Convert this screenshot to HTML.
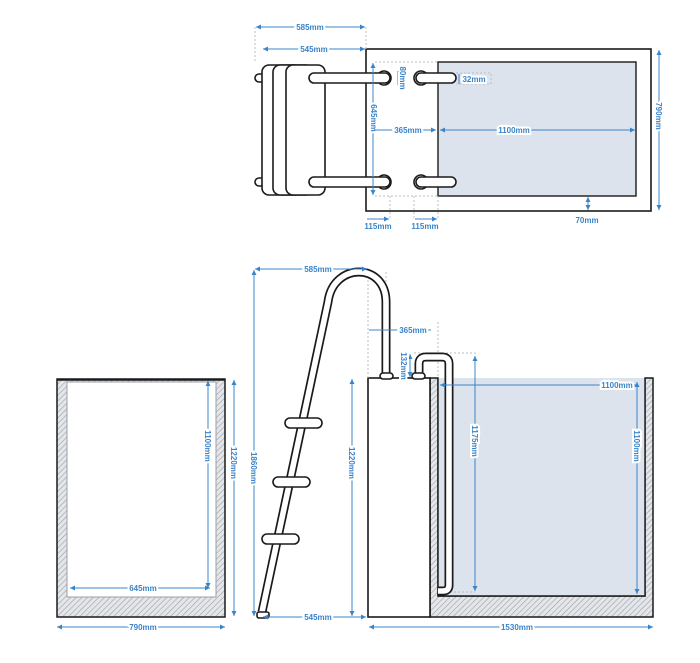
<!DOCTYPE html>
<html><head><meta charset="utf-8"><style>
html,body{margin:0;padding:0;background:#fff;}
svg{display:block;}
text{font-family:"Liberation Sans",sans-serif;font-weight:bold;font-size:8px;fill:#3a84c9;paint-order:stroke;stroke:#fff;stroke-width:4px;}
.d{stroke:#3a84c9;stroke-width:1;fill:none;}
.g{stroke:#b8bcc4;stroke-width:1;stroke-dasharray:2 2;fill:none;}
.k{stroke:#1a1a1a;stroke-width:1.6;fill:#fff;}
</style></head><body>
<svg width="700" height="663" viewBox="0 0 700 663" xmlns="http://www.w3.org/2000/svg">
<defs>
<pattern id="h" width="4" height="4" patternUnits="userSpaceOnUse" patternTransform="rotate(45)">
<rect width="4" height="4" fill="#e4e6ea"/><line x1="0" y1="0" x2="0" y2="4" stroke="#9aa0a8" stroke-width="1.2"/>
</pattern>
<marker id="a" markerWidth="6" markerHeight="6" refX="5" refY="3" orient="auto-start-reverse"><path d="M0,0.5 L5,3 L0,5.5z" fill="#3a84c9"/></marker>
</defs>

<!-- ===== TOP VIEW ===== -->
<rect x="366" y="49" width="285" height="162" class="k"/>
<rect x="438" y="62" width="198" height="134" fill="#dde3ec" stroke="#1a1a1a" stroke-width="1.4"/>
<path class="g" d="M375 62 H438 M375 196 H438 M390 196 V219 M414 196 V219 M438 196 V219 M255 27 V62 M366 27 V49 M456 73 H491 V84 H456"/>
<!-- ladder top -->
<rect x="255" y="74" width="10" height="8" rx="4" class="k"/>
<rect x="255" y="178" width="10" height="8" rx="4" class="k"/>
<rect x="262" y="65" width="40" height="130" rx="7" class="k"/>
<rect x="273" y="65" width="40" height="130" rx="7" class="k"/>
<rect x="286" y="65" width="39" height="130" rx="7" class="k"/>
<g>
<circle cx="384" cy="78" r="7" class="k"/><rect x="309" y="73" width="81" height="10" rx="5" class="k"/>
<circle cx="384" cy="182" r="7" class="k"/><rect x="309" y="177" width="81" height="10" rx="5" class="k"/>
<circle cx="421" cy="78" r="7" class="k"/><rect x="416" y="73" width="40" height="10" rx="5" class="k"/>
<circle cx="421" cy="182" r="7" class="k"/><rect x="416" y="177" width="40" height="10" rx="5" class="k"/>
</g>
<line class="d" x1="256" y1="27" x2="365" y2="27" marker-start="url(#a)" marker-end="url(#a)"/><text x="310" y="30" text-anchor="middle">585mm</text>
<line class="d" x1="263" y1="49" x2="365" y2="49" marker-start="url(#a)" marker-end="url(#a)"/><text x="314" y="52" text-anchor="middle">545mm</text>
<line class="d" x1="398" y1="71" x2="398" y2="85"/><text transform="translate(400,78) rotate(90)" text-anchor="middle">80mm</text>
<line class="d" x1="459" y1="74" x2="459" y2="84"/><text x="474" y="82" text-anchor="middle">32mm</text>
<line class="d" x1="373" y1="63" x2="373" y2="195" marker-start="url(#a)" marker-end="url(#a)"/><text transform="translate(371,118) rotate(90)" text-anchor="middle">645mm</text>
<line class="d" x1="374" y1="130" x2="436" y2="130" marker-end="url(#a)"/><text x="408" y="133" text-anchor="middle">365mm</text>
<line class="d" x1="440" y1="130" x2="635" y2="130" marker-start="url(#a)" marker-end="url(#a)"/><text x="514" y="133" text-anchor="middle">1100mm</text>
<line class="d" x1="659" y1="50" x2="659" y2="210" marker-start="url(#a)" marker-end="url(#a)"/><text transform="translate(656,116) rotate(90)" text-anchor="middle">790mm</text>
<line class="d" x1="588" y1="197" x2="588" y2="210" marker-start="url(#a)" marker-end="url(#a)"/><text x="587" y="223" text-anchor="middle">70mm</text>
<line class="d" x1="367" y1="219" x2="389" y2="219" marker-end="url(#a)"/><text x="378" y="229" text-anchor="middle">115mm</text>
<line class="d" x1="415" y1="219" x2="437" y2="219" marker-end="url(#a)"/><text x="425" y="229" text-anchor="middle">115mm</text>

<!-- ===== LEFT SECTION ===== -->
<rect x="57" y="379" width="168" height="238" fill="url(#h)" stroke="#1a1a1a" stroke-width="1.5"/>
<rect x="67" y="382" width="149" height="215" fill="#fff" stroke="#9aa0a8" stroke-width="1"/>
<line x1="57" y1="380" x2="225" y2="380" stroke="#1a1a1a" stroke-width="1.5"/>
<line class="d" x1="208" y1="381" x2="208" y2="588" marker-start="url(#a)" marker-end="url(#a)"/><text transform="translate(205,446) rotate(90)" text-anchor="middle">1100mm</text>
<line class="d" x1="70" y1="588" x2="210" y2="588" marker-start="url(#a)" marker-end="url(#a)"/><text x="143" y="591" text-anchor="middle">645mm</text>
<line class="d" x1="234" y1="380" x2="234" y2="616" marker-start="url(#a)" marker-end="url(#a)"/><text transform="translate(231,463) rotate(90)" text-anchor="middle">1220mm</text>
<line class="d" x1="57" y1="627" x2="225" y2="627" marker-start="url(#a)" marker-end="url(#a)"/><text x="143" y="630" text-anchor="middle">790mm</text>

<!-- ===== SIDE VIEW ===== -->
<path fill="url(#h)" stroke="#1a1a1a" stroke-width="1.5" d="M430 378 H438 V596 H645 V378 H653 V617 H430 Z"/>
<rect x="438" y="378" width="207" height="218" fill="#dde3ec"/>
<path d="M438 378 V596 H645 V378" fill="none" stroke="#1a1a1a" stroke-width="1.4"/>
<rect x="368" y="378" width="62" height="239" class="k"/>
<path class="g" d="M368 272 V378 M386 272 V300 M438 322 V378 M414 353 H475 V360 M438 592 H475"/>
<!-- handrail -->
<path d="M262 612 L328 302 C333 262, 386 262, 386 302 L386 375" fill="none" stroke="#1a1a1a" stroke-width="9" stroke-linejoin="round"/>
<path d="M262 612 L328 302 C333 262, 386 262, 386 302 L386 375" fill="none" stroke="#fff" stroke-width="5.6" stroke-linejoin="round"/>
<rect x="257" y="612" width="12" height="6" rx="2" class="k"/>
<rect x="380" y="373" width="13" height="6" rx="3" class="k"/>
<rect x="285" y="418" width="37" height="10" rx="5" class="k"/>
<rect x="273" y="477" width="37" height="10" rx="5" class="k"/>
<rect x="262" y="534" width="37" height="10" rx="5" class="k"/>
<!-- pool tube -->
<path d="M419 376 V364 Q419 357 426 357 H442 Q449 357 449 364 V585 Q449 591 443 591 H438" fill="none" stroke="#1a1a1a" stroke-width="9"/>
<path d="M419 376 V364 Q419 357 426 357 H442 Q449 357 449 364 V585 Q449 591 443 591 H438" fill="none" stroke="#fff" stroke-width="5.6"/>
<rect x="412" y="373" width="13" height="6" rx="3" class="k"/>
<!-- dims -->
<line class="d" x1="255" y1="269" x2="367" y2="269" marker-start="url(#a)" marker-end="url(#a)"/><text x="318" y="272" text-anchor="middle">585mm</text>
<line class="d" x1="254" y1="270" x2="254" y2="616" marker-start="url(#a)" marker-end="url(#a)"/><text transform="translate(251,468) rotate(90)" text-anchor="middle">1860mm</text>
<line class="d" x1="352" y1="379" x2="352" y2="616" marker-start="url(#a)" marker-end="url(#a)"/><text transform="translate(349,463) rotate(90)" text-anchor="middle">1220mm</text>
<line class="d" x1="369" y1="330" x2="431" y2="330"/><text x="413" y="333" text-anchor="middle">365mm</text>
<line class="d" x1="410" y1="354" x2="410" y2="377" marker-start="url(#a)" marker-end="url(#a)"/><text transform="translate(401,366) rotate(90)" text-anchor="middle">132mm</text>
<line class="d" x1="475" y1="356" x2="475" y2="591" marker-start="url(#a)" marker-end="url(#a)"/><text transform="translate(472,441) rotate(90)" text-anchor="middle">1175mm</text>
<line class="d" x1="440" y1="385" x2="636" y2="385" marker-start="url(#a)"/><text x="617" y="388" text-anchor="middle">1100mm</text>
<line class="d" x1="637" y1="382" x2="637" y2="594" marker-start="url(#a)" marker-end="url(#a)"/><text transform="translate(634,446) rotate(90)" text-anchor="middle">1100mm</text>
<line class="d" x1="263" y1="617" x2="366" y2="617" marker-start="url(#a)" marker-end="url(#a)"/><text x="318" y="620" text-anchor="middle">545mm</text>
<line class="d" x1="369" y1="627" x2="653" y2="627" marker-start="url(#a)" marker-end="url(#a)"/><text x="517" y="630" text-anchor="middle">1530mm</text>
</svg>
</body></html>
